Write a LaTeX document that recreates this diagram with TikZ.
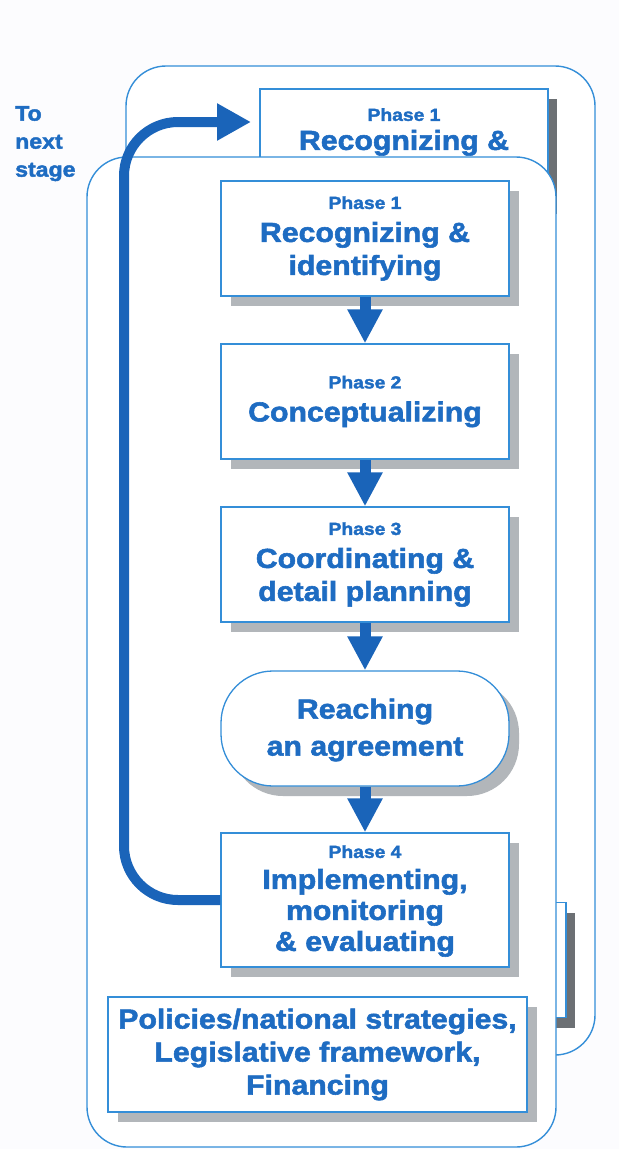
\documentclass[tikz,border=0pt]{standalone}
\usepackage{fontspec}
\newfontfamily\hfont[FakeStretch=1.1,FakeBold=2]{Liberation Sans}
\usetikzlibrary{arrows.meta}
\definecolor{txtblue}{RGB}{30,108,194}
\definecolor{arrblue}{RGB}{26,100,185}
\definecolor{edgeblue}{RGB}{52,142,216}
\definecolor{shlight}{RGB}{178,182,186}
\definecolor{shdark}{RGB}{108,112,116}
\definecolor{bgcol}{RGB}{252,252,254}
\newcommand\mainfnt{\hfont\bfseries\fontsize{27.5}{33}\selectfont}
\newcommand\phfnt{\hfont\bfseries\fontsize{17.5}{33}\selectfont}
\newcommand\tofnt{\hfont\bfseries\fontsize{21}{28}\selectfont}
\begin{document}
\begin{tikzpicture}[x=1pt,y=-1pt,
  panel/.style={draw=edgeblue, line width=1.4pt, fill=white, rounded corners=40pt, inner sep=0pt},
  boxbase/.style={draw=edgeblue, line width=1.3pt, fill=white, minimum width=288pt, minimum height=115pt,
    inner sep=0pt, align=center, text=txtblue, font=\mainfnt},
  phasebox/.style={boxbase, preaction={fill=shlight, transform canvas={xshift=10pt,yshift=-10pt}}},
  backbox/.style={boxbase, preaction={fill=shdark, transform canvas={xshift=9pt,yshift=-10pt}}},
  agreebox/.style={phasebox, rounded corners=52pt},
  downarrow/.style={draw=arrblue, line width=11pt, -{Triangle[length=34pt 0 1, width=33pt 0 1]}},
  looparrow/.style={draw=arrblue, line width=10pt, rounded corners=54pt, -{Triangle[length=34pt 0 1, width=35pt 0 1]}},
  lbl/.style={inner sep=0pt, text=txtblue, align=center, font=\mainfnt}
]
\useasboundingbox (0,0) rectangle (619,1149);
\fill[bgcol] (0,0) rectangle (619,1149);

% back layer
\node[panel, minimum width=469pt, minimum height=989pt] (backpanel) at (360.5,560.5) {};
\node[backbox] (bp1) at (404,146.5) {};
\node[lbl, anchor=north] (bp1t) at (404,108) {{\phfnt Phase 1}\\[-4pt]Recognizing \&};
\node[backbox, minimum width=419pt] (bpol) at (356.5,960) {};

% front layer
\node[panel, minimum width=469pt, minimum height=990pt] (frontpanel) at (321.5,652) {};

\node[anchor=north west, inner sep=0pt, align=left, font=\tofnt, text=txtblue] (tonext) at (15,106) {To\\next\\stage};

\node[phasebox] (p1) at (365,238.5) {{\phfnt Phase 1}\\Recognizing \&\\identifying};
\node[phasebox] (p2) at (365,401.5) {{\phfnt Phase 2}\\Conceptualizing};
\node[phasebox] (p3) at (365,564.5) {{\phfnt Phase 3}\\Coordinating \&\\detail planning};
\node[agreebox] (ra) at (365,728.5) {};
\node[lbl] (rat) at (365,730) {Reaching\\[4pt]an agreement};
\node[phasebox, minimum height=134pt] (p4) at (365,900) {};
\node[lbl] (p4t) at (365,901) {{\phfnt Phase 4}\\[-2pt]Implementing,\\[-2pt]monitoring\\[-2pt]\& evaluating};
\node[phasebox, minimum width=419pt] (pol) at (317.5,1054.5) {Policies/national strategies,\\Legislative framework,\\Financing};

\foreach \a/\b in {p1/p2,p2/p3,p3/ra,ra/p4}
  \draw[downarrow] (\a.south) -- (\b.north);

\coordinate (nexttip) at (251,122);
\draw[looparrow] (p4.west) -| (124,122) -- (nexttip);
\end{tikzpicture}
\end{document}
